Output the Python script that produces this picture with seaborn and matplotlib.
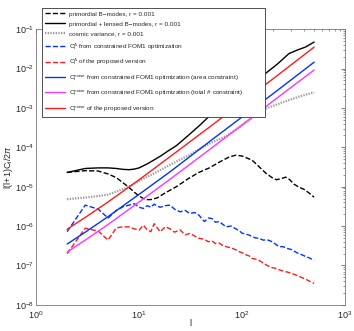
import numpy as np
import matplotlib
matplotlib.use("Agg")
import matplotlib.pyplot as plt
import seaborn as sns

# multipoles and spectra, l(l+1)C_l/2pi
ell_prim = [2, 3, 4, 5, 6, 7, 8, 9, 10, 11, 12, 13, 15, 18, 23, 30, 38, 48, 60, 75,
            87, 100, 125, 150, 170, 195, 215, 240, 265, 290, 320, 355, 400, 450, 500]
bb_prim = [2.3e-5, 2.55e-5, 2.5e-5, 2.1e-5, 1.7e-5, 1.25e-5, 9.5e-6, 7.2e-6, 5.8e-6, 5.0e-6,
           4.7e-6, 4.7e-6, 5.2e-6, 7.0e-6, 1.0e-5, 1.6e-5, 2.3e-5, 3.0e-5, 4.2e-5, 5.7e-5,
           6.3e-5, 6.0e-5, 4.7e-5, 3.0e-5, 2.2e-5, 1.7e-5, 1.5e-5, 1.6e-5, 1.75e-5, 1.5e-5,
           1.15e-5, 9.8e-6, 8.5e-6, 6.8e-6, 5.4e-6]

ell_tot = [2, 3, 4, 5, 6, 7, 8, 9, 10, 12, 14, 16, 19, 23, 30, 40, 48, 60, 80, 100,
           130, 175, 220, 285, 350, 412, 500]
bb_tot = [2.3e-5, 2.9e-5, 3.0e-5, 3.0e-5, 2.9e-5, 2.75e-5, 2.7e-5, 2.8e-5, 3.0e-5, 3.8e-5,
          4.8e-5, 5.9e-5, 8.0e-5, 1.1e-4, 2.0e-4, 3.9e-4, 6.2e-4, 9.6e-4, 1.7e-3, 2.6e-3,
          4.4e-3, 8.1e-3, 1.3e-2, 2.4e-2, 3.0e-2, 3.5e-2, 4.7e-2]

ell_cv = [2, 3, 4, 5, 6, 8, 10, 15, 20, 30, 40, 50, 70, 94, 130, 170, 250, 350, 500]
cosmic_var = [4.8e-6, 5.3e-6, 5.8e-6, 6.3e-6, 7.5e-6, 1.0e-5, 1.4e-5, 2.4e-5, 3.6e-5, 6.2e-5,
              9.5e-5, 1.3e-4, 1.9e-4, 3.2e-4, 6.0e-4, 9.6e-4, 1.4e-3, 1.9e-3, 2.5e-3]

ell_res = [2, 3, 4, 5, 6, 7, 8, 9, 10, 11, 12, 13, 14, 15, 16, 18, 20, 22, 25, 28, 31, 35,
           38, 43, 47, 51, 55, 60, 65, 70, 78, 87, 95, 100, 110, 117, 125, 135, 146, 160,
           175, 196, 210, 228, 250, 275, 306, 340, 375, 412, 450, 500]
delta_fom1 = [7.2e-7, 3.4e-6, 2.7e-6, 1.6e-6, 2.5e-6, 3.1e-6, 3.4e-6, 3.7e-6, 3.0e-6, 2.8e-6,
              3.3e-6, 3.0e-6, 3.6e-6, 3.2e-6, 3.0e-6, 3.3e-6, 3.4e-6, 2.7e-6, 2.3e-6, 2.5e-6,
              2.1e-6, 2.2e-6, 1.9e-6, 1.3e-6, 1.6e-6, 1.55e-6, 1.25e-6, 1.3e-6, 1.1e-6, 9.6e-7,
              1.0e-6, 8.5e-7, 7.4e-7, 6.6e-7, 6.2e-7, 5.9e-7, 5.4e-7, 5.0e-7, 4.9e-7, 4.4e-7,
              4.5e-7, 4.0e-7, 3.5e-7, 3.0e-7, 3.0e-7, 2.7e-7, 2.5e-7, 2.1e-7, 1.9e-7, 1.7e-7,
              1.55e-7, 1.35e-7]
delta_prop = [2.0e-7, 8.8e-7, 7.5e-7, 4.4e-7, 9.0e-7, 9.6e-7, 9.5e-7, 8.5e-7, 7.9e-7, 1.05e-6,
              8.0e-7, 7.2e-7, 1.15e-6, 9.0e-7, 7.2e-7, 9.6e-7, 8.5e-7, 7.0e-7, 8.0e-7, 6.0e-7,
              6.5e-7, 5.5e-7, 4.9e-7, 4.6e-7, 4.0e-7, 4.2e-7, 3.6e-7, 3.7e-7, 3.2e-7, 3.0e-7,
              2.8e-7, 2.5e-7, 2.2e-7, 2.1e-7, 1.85e-7, 1.75e-7, 1.5e-7, 1.45e-7, 1.35e-7, 1.15e-7,
              1.0e-7, 8.8e-8, 8.5e-8, 7.8e-8, 7.2e-8, 6.8e-8, 6.2e-8, 5.6e-8, 5.0e-8, 4.5e-8,
              4.0e-8, 3.5e-8]

ell_noise = [2, 3, 5, 10, 20, 50, 100, 200, 500]
noise_area = [3.5e-7, 7.0e-7, 1.74e-6, 6.4e-6, 2.4e-5, 1.5e-4, 5.9e-4, 2.3e-3, 1.45e-2]
noise_total = [2.2e-7, 4.4e-7, 1.1e-6, 4.1e-6, 1.55e-5, 9.4e-5, 3.7e-4, 1.5e-3, 9.2e-3]
noise_prop = [8.3e-7, 1.66e-6, 4.1e-6, 1.5e-5, 5.8e-5, 3.5e-4, 1.4e-3, 5.5e-3, 3.5e-2]

sns.set_style("white")
plt.rcParams["font.family"] = ["Liberation Sans", "DejaVu Sans"]
plt.rcParams["mathtext.fontset"] = "custom"
plt.rcParams["mathtext.rm"] = "Liberation Sans"
plt.rcParams["mathtext.it"] = "Liberation Sans:italic"
plt.rcParams["mathtext.bf"] = "Liberation Sans:bold"

fig = plt.figure(figsize=(3.54, 3.31), dpi=100)
ax = fig.add_axes([0.102, 0.079, 0.873, 0.833])

lw = 1.0
sns.lineplot(x=ell_prim, y=bb_prim, ax=ax, color="black", linestyle="--", lw=lw,
             label="primordial B\u2212modes, r = 0.001")
sns.lineplot(x=ell_tot, y=bb_tot, ax=ax, color="black", lw=lw,
             label="primordial + lensed B\u2212modes, r = 0.001")
sns.lineplot(x=ell_cv, y=cosmic_var, ax=ax, color="#999999", linestyle=(0, (0.6, 0.6)), lw=1.6,
             label="cosmic variance, r = 0.001")
sns.lineplot(x=ell_res, y=delta_fom1, ax=ax, color="#0033ff", linestyle="--", lw=lw,
             label=r"C$_\mathrm{l}^\Delta$ from constrained FOM1 optimization")
sns.lineplot(x=ell_res, y=delta_prop, ax=ax, color="#ff1a1a", linestyle="--", lw=lw,
             label=r"C$_\mathrm{l}^\Delta$ of the proposed version")
sns.lineplot(x=ell_noise, y=noise_area, ax=ax, color="#0033ff", lw=lw,
             label=r"C$_\mathrm{l}^\mathrm{noise}$ from constrained FOM1 optimization (area constraint)")
sns.lineplot(x=ell_noise, y=noise_total, ax=ax, color="#ff33ff", lw=lw,
             label=r"C$_\mathrm{l}^\mathrm{noise}$ from constrained FOM1 optimization (total # constraint)")
sns.lineplot(x=ell_noise, y=noise_prop, ax=ax, color="#ff1a1a", lw=lw,
             label=r"C$_\mathrm{l}^\mathrm{noise}$ of the proposed version")

ax.set_xscale("log")
ax.set_yscale("log")
ax.set_xlim(1, 1000)
ax.set_ylim(1e-8, 1e-1)

ax.set_xlabel("l", fontsize=6.5, labelpad=-1)
ax.set_ylabel(r"l(l+1)C$_\mathrm{l}$/2$\pi$", fontsize=6.5, labelpad=0)
ax.tick_params(which="both", direction="in", top=True, right=True, labelsize=6.5,
               color="#444444")
ax.tick_params(axis="y", pad=1.5)
ax.tick_params(axis="x", pad=3)
ax.tick_params(which="major", length=3, width=0.5)
ax.tick_params(which="minor", length=1.6, width=0.4)
for s in ax.spines.values():
    s.set_color("#777777")
    s.set_linewidth(0.6)

leg = ax.legend(loc="upper left", bbox_to_anchor=(0.110, 0.65, 0.647, 0.335),
                bbox_transform=fig.transFigure, mode="expand",
                fontsize=4.6, frameon=True, fancybox=False, framealpha=1,
                edgecolor="#333333", handlelength=3.2, handletextpad=0.5,
                labelspacing=0.72, borderpad=0.45)
leg.get_frame().set_linewidth(0.6)

fig.savefig("out.png", dpi=100)
